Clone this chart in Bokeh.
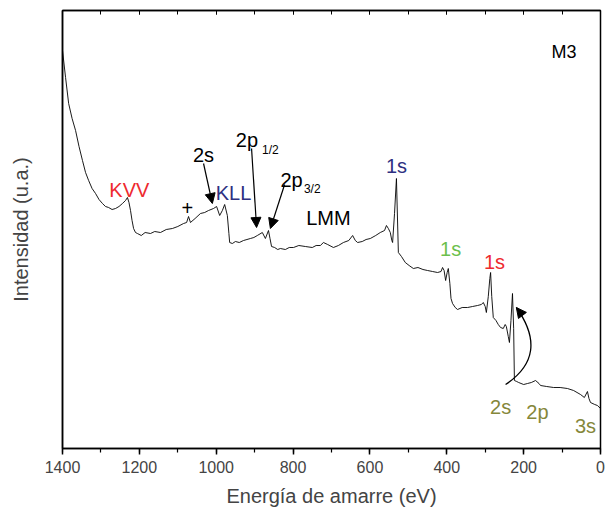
from bokeh.plotting import figure
from bokeh.models import (Range1d, LinearAxis, FixedTicker, Arrow, NormalHead,
                          SingleIntervalTicker, CustomJSTickFormatter)
from bokeh.core.properties import value
from bokeh.embed import file_html
from bokeh.resources import INLINE

# ---- spectrum (binding energy eV, intensity a.u.) ----
energy = [1400, 1392, 1384, 1375, 1366, 1357, 1348, 1340, 1332, 1323, 1314, 1305, 1296, 1288,
          1280, 1271, 1262, 1253, 1244, 1236, 1231, 1227, 1223, 1219, 1215, 1210, 1205, 1195,
          1185, 1171, 1160, 1145, 1130, 1114, 1100, 1085, 1077, 1072, 1067, 1055, 1041, 1030,
          1020, 1007, 999, 991, 984, 978, 971, 967, 965, 958, 950, 940, 929, 920, 911, 902,
          893, 880, 872, 864, 860, 856, 848, 840, 833, 820, 810, 799, 785, 768, 750, 740,
          729, 721, 710, 695, 682, 669, 655, 645, 638, 632, 620, 610, 599, 585, 573, 562,
          557, 552, 547, 543, 541, 536, 531, 526, 518, 508, 498, 487, 475, 462, 450, 437,
          424, 415, 411, 407, 403, 399, 396, 392, 389, 385, 378, 372, 360, 346, 333, 320,
          310, 305, 300, 297, 292, 288, 286, 283, 279, 272, 266, 260, 253, 248, 245, 240,
          237, 233, 229, 226, 224, 218, 213, 200, 190, 180, 169, 160, 156, 140, 122, 105,
          86, 70, 52, 42, 34, 30, 26, 15, 8, 0]
intensity = [398, 371, 345, 330, 318, 302, 288, 276, 268, 260, 255, 249, 245, 242,
             241, 239, 240, 242, 245, 248, 251, 246, 238, 228, 220, 216, 215, 213,
             216, 215, 217, 216, 219, 220, 222, 225, 226, 232, 226, 230, 235, 236,
             238, 240, 242, 233, 238, 244, 233, 215, 206, 205, 207, 206, 208, 209, 210, 211,
             213, 216, 210, 218, 210, 202, 201, 199, 200, 199, 201, 201, 203, 202, 201, 203,
             203, 206, 204, 201, 203, 206, 208, 213, 208, 206, 207, 209, 210, 213, 216, 218,
             223, 220, 216, 208, 206, 235, 270, 196, 192, 186, 183, 180, 181, 179, 178, 177,
             176, 177, 181, 178, 168, 176, 180, 165, 150, 145, 141, 139, 141, 141, 142, 143,
             144, 146, 142, 136, 152, 170, 176, 152, 131, 128, 124, 121, 120, 124, 122, 112,
             106, 128, 155, 120, 68, 67, 66, 64, 65, 66, 68, 65, 63, 62, 61, 61,
             60, 58, 54, 51, 57, 50, 46, 44, 43, 40]

# ---- annotations ----
lab_text = ["KVV", "KLL", "+", "2s", "2p", "2p", "LMM", "1s", "1s", "1s", "2s", "2p", "3s"]
lab_x = [1226, 955, 1075, 1033, 920, 804, 708, 531, 390, 276, 260, 164, 39]
lab_y = [259, 256, 241, 294, 309, 269, 231, 283, 200, 187, 42, 37, 23]
lab_color = ["#ee2a2f", "#2e3081", "black", "black", "black", "black", "black",
             "#2e3081", "#6cbf4c", "#ee2a2f", "#85873a", "#85873a", "#85873a"]
sub_text = ["1/2", "3/2"]
sub_x = [859, 750]
sub_y = [299, 260]
arrow_x0 = [1033, 908, 822]
arrow_y0 = [285, 300, 264]
arrow_x1 = [1010, 895, 859]
arrow_y1 = [245, 221, 220]
curve_pts = dict(x0=247, y0=64, cx=131, cy=93.5, x1=219, y1=141)
curve_head = dict(x0=211, y0=137)

FONT = "Liberation Sans"

p = figure(width=606, height=517, frame_width=538, frame_height=438,
           min_border_left=62, min_border_right=6, min_border_top=10, min_border_bottom=69,
           output_backend="svg", toolbar_location=None,
           x_range=Range1d(1400, 0), y_range=Range1d(0, 438))
p.grid.visible = False
p.outline_line_color = "black"
p.outline_line_width = 1.5

p.line(energy, intensity, line_color="black", line_width=0.9)

p.text(x=lab_x, y=lab_y, text=lab_text, text_color=lab_color,
       text_font=value(FONT), text_font_size="20px",
       text_align="center", text_baseline="middle")
p.text(x=sub_x, y=sub_y, text=sub_text, text_color="black",
       text_font=value(FONT), text_font_size="12px",
       text_align="center", text_baseline="middle")
p.text(x=[95], y=[397], text=["M3"], text_color="black",
       text_font=value(FONT), text_font_size="18px",
       text_align="center", text_baseline="middle")

for a0, b0, a1, b1 in zip(arrow_x0, arrow_y0, arrow_x1, arrow_y1):
    p.add_layout(Arrow(end=NormalHead(size=10, fill_color="black", line_color="black"),
                       x_start=a0, y_start=b0, x_end=a1, y_end=b1,
                       line_color="black", line_width=1.2))

p.quadratic(x0=[curve_pts["x0"]], y0=[curve_pts["y0"]], cx=[curve_pts["cx"]], cy=[curve_pts["cy"]],
            x1=[curve_pts["x1"]], y1=[curve_pts["y1"]], line_color="black", line_width=1.3)
p.add_layout(Arrow(end=NormalHead(size=10, fill_color="black", line_color="black"),
                   x_start=curve_head["x0"], y_start=curve_head["y0"],
                   x_end=curve_pts["x1"], y_end=curve_pts["y1"],
                   line_color="black", line_width=1.3))

# bottom axis
xa = p.xaxis[0]
xa.ticker = SingleIntervalTicker(interval=200, num_minor_ticks=2)
xa.axis_label = "Energía de amarre (eV)"
xa.axis_label_text_font = FONT
xa.axis_label_text_font_style = "normal"
xa.axis_label_text_font_size = "20px"
xa.axis_label_standoff = 9
xa.major_label_text_font = FONT
xa.major_label_text_font_size = "16px"
xa.major_label_standoff = 6
xa.major_tick_out = 6
xa.major_tick_in = 0
xa.minor_tick_out = 4
xa.minor_tick_in = 0
xa.axis_line_width = 1.5
xa.major_tick_line_width = 1.5
xa.minor_tick_line_width = 1.2

# left axis
ya = p.yaxis[0]
ya.ticker = FixedTicker(ticks=[])
ya.axis_label = "Intensidad (u.a.)"
ya.axis_label_text_font = FONT
ya.axis_label_text_font_style = "normal"
ya.axis_label_text_font_size = "20px"
ya.axis_label_standoff = 31
ya.axis_line_width = 1.5

# top axis with inward ticks, no labels
ta = LinearAxis(ticker=SingleIntervalTicker(interval=200, num_minor_ticks=2),
                formatter=CustomJSTickFormatter(code="return ''"),
                major_label_standoff=0, major_tick_in=4, major_tick_out=0,
                minor_tick_in=4, minor_tick_out=0, axis_line_width=1.5)
p.add_layout(ta, "above")

out = file_html(p, INLINE)
open("out.html", "w").write(out)
